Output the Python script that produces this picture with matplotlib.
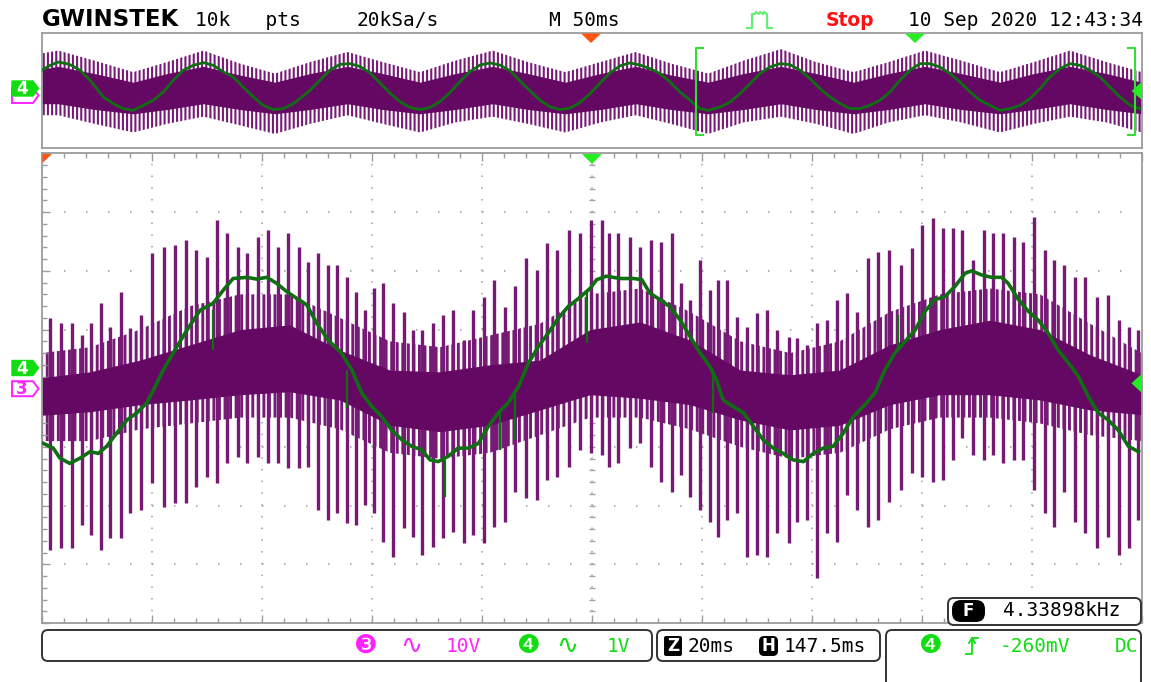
import matplotlib
matplotlib.use("Agg")
import matplotlib.pyplot as plt
from matplotlib.patches import FancyBboxPatch, Polygon
from matplotlib.ticker import MultipleLocator

plt.rcParams["lines.scale_dashes"] = False

# ---------------- main window (20 ms/div, CH3 10 V/div, CH4 1 V/div) ----------------
# CH3 switching pulses: time (ms), positive tip (V), negative tip (V)
spk_t = [1.5, 3.5, 5.5, 7.3, 8.9, 10.8, 12.5, 14.4, 16.1, 18.1, 20.1, 22.2, 24.2, 26.2,
         28.1, 30.0, 31.8, 33.6, 35.6, 37.4, 39.4, 41.2, 43.0, 44.8, 46.7, 48.5, 50.3,
         52.0, 53.6, 55.5, 57.1, 58.8, 60.5, 62.1, 63.9, 65.8, 67.6, 69.2, 71.2, 73.0,
         74.8, 76.7, 78.5, 80.5, 82.3, 84.2, 86.1, 88.1, 90.0, 91.8, 93.6, 95.8, 97.9,
         99.9, 101.8, 103.2, 104.8, 107.0, 108.8, 110.7, 112.6, 114.6, 116.2, 117.9,
         119.7, 121.5, 123.0, 124.6, 126.4, 128.2, 130.0, 131.8, 133.6, 135.8, 137.3,
         139.1, 140.9, 142.7, 144.6, 146.4, 148.2, 150.3, 152.1, 154.1, 156.2, 158.2,
         160.1, 162.1, 163.9, 165.6, 167.4, 169.4, 171.4, 173.0, 174.8, 176.7, 178.5,
         180.5, 182.4, 184.1, 185.9, 187.9, 189.7, 191.8, 193.8, 195.8, 197.6, 199.4]
spk_hi = [12.0, 11.1, 11.1, 9.1, 11.1, 14.5, 10.4, 16.4, 10.3, 12.5, 23.1, 24.1, 24.4, 25.3,
          23.6, 22.4, 28.7, 26.5, 24.1, 23.1, 25.8, 27.0, 24.1, 26.5, 24.1, 21.5, 23.1,
          21.0, 21.0, 19.0, 16.4, 13.3, 17.1, 17.9, 14.5, 13.0, 9.9, 9.9, 11.1, 12.5,
          13.3, 8.2, 13.3, 15.6, 18.5, 13.9, 17.4, 22.2, 20.2, 24.8, 23.6, 27.0, 26.5,
          28.7, 28.7, 26.5, 26.5, 25.8, 24.1, 25.3, 24.9, 26.5, 17.9, 15.0,
          21.9, 16.8, 18.5, 18.5, 12.2, 10.4, 12.8, 13.3, 9.9, 8.7, 8.6,
          7.4, 11.1, 11.6, 15.0, 16.2, 13.0, 22.2, 23.2, 23.6, 21.0, 23.9,
          27.8, 29.0, 27.3, 27.3, 27.0, 21.9, 27.0, 26.5, 26.5, 25.8, 24.9,
          29.2, 23.6, 21.9, 21.0, 19.0, 19.0, 15.6, 15.9, 11.6, 10.4, 9.9]
spk_lo = [-27.6, -27.2, -27.2, -23.3, -25.0, -27.6, -25.5, -25.5, -21.2, -20.7, -16.1, -20.2,
          -19.5, -19.5, -16.8, -15.1, -16.1, -12.7, -11.7, -12.7, -11.7, -12.7, -12.7,
          -13.6, -13.6, -13.4, -20.7, -22.4, -21.2, -23.0, -23.3, -19.9, -21.2, -26.2,
          -28.7, -23.8, -25.3, -28.4, -27.0, -25.5, -24.5, -26.4, -25.0, -26.4, -23.6,
          -22.8, -17.7, -18.7, -19.0, -15.6, -15.1, -13.4, -10.5, -11.0, -11.4, -13.4,
          -12.7, -10.2, -9.3, -13.4, -16.0, -17.7, -14.8, -18.5, -20.7, -22.8, -25.3,
          -22.4, -21.2, -28.7, -28.4, -28.7, -24.7, -26.4, -22.8, -22.4, -32.3, -24.7,
          -26.2, -18.2, -20.7, -23.6, -22.4, -19.4, -17.3, -14.4, -15.1, -16.0, -15.6,
          -12.2, -8.5, -11.4, -12.2, -11.4, -12.7, -12.2, -12.2, -17.3, -21.2, -23.6,
          -17.7, -22.8, -24.7, -27.2, -25.3, -28.4, -27.2, -22.4]

# CH3 solid core and the crowded zone of shorter pulses around it: time (ms), volts
band_t = [0, 8.8, 17.9, 27.0, 36.1, 45.1, 54.2, 63.3, 72.4, 81.5, 90.6, 99.7, 108.8,
          117.9, 127.0, 136.1, 145.1, 154.2, 163.3, 172.4, 181.5, 190.6, 200]
band_hi = [1.8, 2.8, 4.8, 7.4, 10.0, 10.8, 6.5, 3.1, 2.8, 4.0, 4.8, 10.0, 11.3,
           8.2, 3.1, 2.3, 3.1, 7.4, 10.0, 11.6, 10.0, 5.7, 2.3]
band_lo = [-4.6, -4.0, -2.8, -2.0, -1.1, -0.6, -2.0, -6.3, -7.4, -6.3, -3.7, -1.1, -1.7,
           -2.8, -5.4, -7.1, -6.3, -2.8, -1.1, -1.1, -2.0, -3.7, -4.5]
crowd_hi = [6.0, 7.0, 10.0, 14.0, 16.0, 16.0, 12.0, 8.0, 7.0, 9.0, 11.0, 16.0, 17.0,
            13.0, 8.0, 6.0, 8.0, 13.0, 16.0, 17.0, 16.0, 11.0, 6.0]
crowd_lo = [-9.0, -9.0, -7.0, -6.0, -5.0, -5.0, -7.0, -11.0, -12.0, -11.0, -8.0, -5.0,
            -5.0, -7.0, -10.0, -12.0, -11.0, -7.0, -5.0, -5.0, -6.0, -8.0, -9.0]

# CH4 trace: time (ms), volts
ch4_t = [0.3, 2.1, 3.3, 5.1, 7.0, 8.8, 10.3, 11.8, 13.6, 15.5, 17.3, 19.1, 20.3, 22.1,
         23.9, 26.4, 28.8, 31.2, 33.0, 34.8, 37.3, 39.1, 40.9, 42.7, 44.5, 46.4, 48.2,
         50.0, 52.1, 54.5, 56.4, 58.2, 60.0, 61.8, 63.6, 65.5, 67.3, 69.1, 70.6, 72.1,
         73.9, 75.7, 77.6, 79.4, 81.2, 83.0, 84.8, 86.7, 88.5, 90.3, 92.1, 93.9, 95.7,
         97.6, 99.7, 100.9, 102.7, 105.1, 107.6, 109.1, 110.6, 112.4, 114.2, 116.1,
         117.9, 119.7, 121.5, 122.7, 123.9, 125.7, 127.6, 129.4, 131.2, 133.0, 134.8,
         136.6, 138.5, 140.3, 142.1, 143.9, 145.7, 147.6, 149.7, 151.5, 153.3, 155.1,
         156.9, 158.8, 160.6, 162.4, 164.2, 166.0, 167.9, 169.1, 170.9, 172.7, 174.5,
         175.7, 177.6, 179.4, 181.2, 183.0, 184.8, 186.7, 188.5, 190.3, 192.1, 193.9,
         195.7, 197.6, 199.4]
ch4_v = [-1.28, -1.36, -1.53, -1.62, -1.53, -1.42, -1.45, -1.33, -1.11, -0.88, -0.76, -0.59,
         -0.37, -0.03, 0.26, 0.65, 0.99, 1.11, 1.33, 1.53, 1.55, 1.52, 1.55, 1.45, 1.31,
         1.19, 1.08, 0.77, 0.48, 0.26, -0.03, -0.42, -0.65, -0.82, -1.05, -1.22, -1.33,
         -1.39, -1.56, -1.59, -1.50, -1.36, -1.36, -1.28, -0.99, -0.76, -0.59, -0.31, 0.09,
         0.37, 0.60, 0.85, 1.05, 1.19, 1.36, 1.51, 1.57, 1.53, 1.53, 1.51, 1.28, 1.17, 1.05,
         0.82, 0.54, 0.26, 0.03, -0.20, -0.54, -0.65, -0.76, -0.99, -1.22, -1.36, -1.45,
         -1.56, -1.59, -1.45, -1.36, -1.33, -1.11, -0.82, -0.62, -0.42, -0.03, 0.26, 0.45,
         0.65, 0.97, 1.17, 1.22, 1.39, 1.62, 1.66, 1.59, 1.55, 1.55, 1.45, 1.17, 0.97,
         0.82, 0.60, 0.31, 0.09, -0.14, -0.48, -0.76, -0.88, -1.05, -1.33, -1.42]

# CH4 short glitches: time (ms), start / end (V)
glitch_t = [31.2, 55.5, 73.3, 83.4, 86.1, 99.1, 122.1, 155.7]
glitch_a = [1.00, -0.03, -1.56, -0.72, -0.45, 1.33, -0.03, 0.31]
glitch_b = [0.31, -0.67, -2.19, -1.39, -1.22, 0.43, -0.76, 0.91]

# ---------------- overview window (50 ms/div, whole record) ----------------
ov4_t = [0, 3.8, 7.5, 11.4, 13.6, 17.4, 22.0, 25.0, 28.0, 32.5, 37.1, 41.6, 46.2, 50.7,
         55.3, 59.8, 64.4, 68.9, 73.5, 78.0, 82.6, 87.1, 91.6, 96.2, 100.7, 105.3, 109.8,
         114.4, 117.4, 122.0, 126.5, 131.0, 135.6, 140.1, 144.7, 149.2, 153.8, 158.3,
         162.9, 167.4, 172.0, 176.5, 181.0, 185.6, 190.1, 194.7, 199.2, 203.8, 208.3,
         212.9, 217.4, 222.0, 226.5, 231.0, 235.6, 240.1, 244.7, 249.2, 253.8, 258.3,
         262.9, 267.4, 272.0, 276.5, 281.0, 285.6, 290.1, 294.7, 299.2, 303.0, 308.3,
         312.9, 317.4, 322.0, 326.5, 331.0, 335.6, 340.1, 344.7, 349.2, 353.8, 358.3,
         362.9, 367.4, 372.0, 376.5, 381.0, 385.6, 390.1, 394.7, 399.2, 403.8, 408.3,
         412.9, 417.4, 422.0, 426.5, 431.0, 435.6, 440.1, 444.7, 449.2, 453.8, 458.3,
         462.9, 467.4, 472.0, 476.5, 481.0, 485.6, 490.1, 494.7, 499.2]
ov4_v = [1.09, 1.43, 1.66, 1.55, 1.43, 1.09, 0.39, -0.19, -0.77, -1.23, -1.58, -1.70, -1.35,
         -1.00, -0.42, 0.39, 1.09, 1.43, 1.62, 1.43, 0.97, 0.62, -0.08, -0.77, -1.35, -1.65,
         -1.58, -1.23, -0.88, -0.30, 0.40, 1.10, 1.50, 1.55, 1.35, 0.90, 0.20, -0.50, -1.10,
         -1.50, -1.65, -1.50, -1.10, -0.45, 0.30, 1.00, 1.45, 1.60, 1.45, 1.05, 0.35, -0.35,
         -1.00, -1.45, -1.65, -1.55, -1.15, -0.55, 0.20, 0.90, 1.40, 1.60, 1.45, 1.20, 0.86,
         0.27, -0.42, -1.00, -1.58, -1.70, -1.47, -1.12, -0.54, 0.16, 0.86, 1.31, 1.55,
         1.48, 1.09, 0.51, -0.19, -0.77, -1.23, -1.58, -1.58, -1.35, -1.00, -0.42, 0.39,
         1.09, 1.55, 1.55, 1.31, 0.86, 0.27, -0.42, -1.00, -1.35, -1.70, -1.58, -1.35,
         -0.88, -0.19, 0.62, 1.20, 1.55, 1.43, 1.09, 0.62, -0.08, -0.77, -1.35, -1.58]

ov3_t = [0, 7.5, 24, 41.6, 57, 73.5, 90, 106, 122, 139, 155, 172, 188, 205, 221, 238,
         254, 270, 286, 303, 319, 336, 352, 369, 385, 401.5, 418, 435.6, 451, 467.4, 484, 500]
ov3_tip_hi = [26, 28, 21, 13, 20, 28, 19, 12, 20, 27, 20, 13, 21, 28, 20, 13,
              20, 27, 19, 12, 21, 29, 20, 13, 20, 28, 21, 13, 20, 28, 20, 13]
ov3_tip_lo = [-17, -17, -23, -29, -23, -18, -24, -30, -23, -17, -23, -29, -22, -18, -23, -29,
              -22, -17, -23, -30, -22, -18, -23, -30, -22, -17, -22, -29, -23, -18, -22, -29]
ov3_core_hi = [15, 17, 12, 6, 12, 17, 11, 6, 12, 17, 12, 6, 12, 17, 12, 6,
               12, 17, 11, 6, 12, 17, 12, 6, 12, 17, 12, 6, 12, 17, 12, 6]
ov3_core_lo = [-9, -9, -13, -16, -13, -9, -13, -16, -13, -9, -13, -16, -13, -9, -13, -16,
               -13, -9, -13, -16, -13, -9, -13, -16, -13, -9, -13, -16, -13, -9, -13, -16]

CH4_OFFSET_DIV = 0.34
PURPLE = "#640864"
PURPLE_SPIKE = "#761a76"
GREEN = "#0f6e12"
GRID = "#a6a6a6"
FRAME = "#9c9c9c"

W, H = 1151, 682
fig = plt.figure(figsize=(W / 100, H / 100), dpi=100)
fig.patch.set_facecolor("white")


def axes_px(x0, y0, x1, y1):
    return fig.add_axes([x0 / W, (H - y1) / H, (x1 - x0) / W, (y1 - y0) / H])


# ---------------- main graticule ----------------
gx0, gx1, gy0, gy1 = 41.7, 1141.7, 153.5, 623.0
main = axes_px(gx0, gy0, gx1, gy1)
main.set_xlim(0, 200)
main.set_ylim(-40, 40)
main.xaxis.set_major_locator(MultipleLocator(20))
main.xaxis.set_minor_locator(MultipleLocator(4))
main.yaxis.set_major_locator(MultipleLocator(10))
main.yaxis.set_minor_locator(MultipleLocator(2))
main.tick_params(which="both", direction="in", top=True, right=True,
                 labelbottom=False, labelleft=False, color=FRAME, width=1.0)
main.tick_params(which="major", length=6)
main.tick_params(which="minor", length=3.5)
for s in main.spines.values():
    s.set_color(FRAME)
    s.set_linewidth(1.3)

for v in range(-30, 31, 10):
    main.axhline(v, color=GRID, lw=1.2, ls=(0, (1.1, 14.74)), zorder=0.5)
for t in range(20, 200, 20):
    main.axvline(t, color=GRID, lw=1.2, ls=(0, (1.1, 7.35)), zorder=0.5)
# centre-line sub-division ticks
main.plot([100] * 41, list(range(-40, 41, 2)), ls="none", marker="_", ms=5,
          mew=1.0, color=GRID, zorder=0.6)
main.plot(list(range(0, 201, 4)), [0] * 51, ls="none", marker="|", ms=5,
          mew=1.0, color=GRID, zorder=0.6)

with plt.rc_context({"hatch.linewidth": 2.1}):
    main.fill_between(band_t, crowd_lo, crowd_hi, facecolor="white", edgecolor=PURPLE_SPIKE,
                      hatch="|||", lw=0, zorder=1.5)
main.vlines(spk_t, spk_lo, spk_hi, color=PURPLE_SPIKE, lw=2.4, zorder=2)
main.fill_between(band_t, band_lo, band_hi, color=PURPLE, lw=0, zorder=2.5)

main4 = main.twinx()
main4.set_ylim(-4 - CH4_OFFSET_DIV, 4 - CH4_OFFSET_DIV)
main4.axis("off")
main4.plot(ch4_t, ch4_v, color=GREEN, lw=2.6, solid_joinstyle="round")
main4.vlines(glitch_t, glitch_a, glitch_b, color=GREEN, lw=1.6)

# ---------------- overview window ----------------
ov = axes_px(gx0, 33.3, gx1, 148.3)
ov.set_xlim(0, 500)
ov.set_ylim(-40, 40)
ov.set_xticks([])
ov.set_yticks([])
for s in ov.spines.values():
    s.set_color(FRAME)
    s.set_linewidth(1.3)
with plt.rc_context({"hatch.linewidth": 1.5}):
    ov.fill_between(ov3_t, ov3_tip_lo, ov3_tip_hi, facecolor="white", edgecolor=PURPLE_SPIKE,
                    hatch="||||", lw=0, zorder=1)
ov.fill_between(ov3_t, ov3_core_lo, ov3_core_hi, color=PURPLE, lw=0, zorder=2)
ov4 = ov.twinx()
ov4.set_ylim(-4 - CH4_OFFSET_DIV, 4 - CH4_OFFSET_DIV)
ov4.axis("off")
ov4.plot(ov4_t, ov4_v, color=GREEN, lw=2.0)

# ---------------- screen furniture (pixel coordinates) ----------------
scr = fig.add_axes([0, 0, 1, 1])
scr.set_xlim(0, W)
scr.set_ylim(H, 0)
scr.axis("off")
scr.set_zorder(10)

MONO = "DejaVu Sans Mono"
LGREEN = "#11dd11"
MAGENTA = "#ff22ff"

# header
scr.text(42, 19.5, "GWINSTEK", fontsize=16.5, fontweight="bold", family="DejaVu Sans",
         va="center", ha="left", color="black")
scr.text(195, 21, "10k   pts", fontsize=14, family=MONO, va="center", ha="left")
scr.text(357, 21, "20kSa/s", fontsize=14, family=MONO, va="center", ha="left")
scr.text(549, 21, "M 50ms", fontsize=14, family=MONO, va="center", ha="left")
scr.plot([747, 752, 752, 755, 756, 759, 760, 763, 764, 767, 767, 772],
         [28, 28, 14, 14, 12, 14, 12, 14, 12, 14, 28, 28], color="#66ee77", lw=1.6)
scr.text(826, 20, "Stop", fontsize=13.5, fontweight="bold", family="DejaVu Sans",
         va="center", ha="left", color="#ff1111")
scr.text(908, 21, "10 Sep 2020 12:43:34", fontsize=14, family=MONO, va="center", ha="left")

# top markers
scr.add_patch(Polygon([(581, 33.5), (601, 33.5), (591, 43)], closed=True, color="#ff5511", lw=0))
scr.add_patch(Polygon([(905, 33.5), (925, 33.5), (915, 43)], closed=True, color="#22ee22", lw=0))
scr.add_patch(Polygon([(582, 154), (602, 154), (592, 164)], closed=True, color="#22ee22", lw=0))
scr.add_patch(Polygon([(42.5, 154), (52, 154), (42.5, 163)], closed=True, color="#ff5511", lw=0))

# zoom window brackets on the overview
for xb, d in ((696, 1), (1135, -1)):
    scr.plot([xb + 7 * d, xb, xb, xb + 7 * d], [48, 48, 135, 135], color="#33dd33", lw=1.5)

# right-hand trigger level markers
scr.add_patch(Polygon([(1142, 81.5), (1142, 100), (1131.5, 91)], closed=True, color="#22ee22", lw=0))
scr.add_patch(Polygon([(1142, 373.5), (1142, 393), (1131.5, 383.3)], closed=True, color="#22ee22", lw=0))


def tag_shape(y, face, edge, lw):
    pts = [(12, y - 7.5), (33, y - 7.5), (38.5, y), (33, y + 7.5), (12, y + 7.5)]
    scr.add_patch(Polygon(pts, closed=True, facecolor=face, edgecolor=edge, lw=lw))


# overview channel tags (CH3 tag sits underneath the CH4 tag)
tag_shape(95.5, "white", MAGENTA, 1.4)
tag_shape(88.5, LGREEN, LGREEN, 1.0)
scr.text(22, 89, "4", fontsize=12, fontweight="bold", family="DejaVu Sans",
         color="white", ha="center", va="center")
# main window channel tags
tag_shape(368, LGREEN, LGREEN, 1.0)
scr.text(22, 368.5, "4", fontsize=12, fontweight="bold", family="DejaVu Sans",
         color="white", ha="center", va="center")
tag_shape(388.7, "white", MAGENTA, 1.4)
scr.text(22, 389.2, "3", fontsize=12, fontweight="bold", family="DejaVu Sans",
         color=MAGENTA, ha="center", va="center")


def rbox(x0, y0, x1, y1, r=6, face="white", edge="#333333"):
    scr.add_patch(FancyBboxPatch((x0, y0), x1 - x0, y1 - y0,
                                 boxstyle=f"round,pad=0,rounding_size={r}",
                                 facecolor=face, edgecolor=edge, lw=1.4))


# bottom status boxes
rbox(42, 630, 652, 661)
rbox(657, 630, 880, 661)
rbox(886, 630, 1141, 692)
rbox(948, 598, 1141, 625)

yb = 646
scr.text(365, yb, "\u2778", fontsize=19, family="DejaVu Sans", color=MAGENTA, ha="center", va="center")
scr.text(411, yb, "\u223f", fontsize=19, family="DejaVu Sans", color=MAGENTA, ha="center", va="center")
scr.text(446, yb, "10V", fontsize=14, family=MONO, color=MAGENTA, ha="left", va="center")
scr.text(528, yb, "\u2779", fontsize=19, family="DejaVu Sans", color=LGREEN, ha="center", va="center")
scr.text(567, yb, "\u223f", fontsize=19, family="DejaVu Sans", color=LGREEN, ha="center", va="center")
scr.text(607, yb, "1V", fontsize=14, family=MONO, color=LGREEN, ha="left", va="center")

rbox(665, 637, 681, 655, r=1, face="black", edge="black")
scr.text(673, yb, "Z", fontsize=12, fontweight="bold", family="DejaVu Sans", color="white",
         ha="center", va="center")
scr.text(688, yb, "20ms", fontsize=14, family=MONO, color="black", ha="left", va="center")
rbox(760, 637, 777, 655, r=4, face="black", edge="black")
scr.text(768.5, yb, "H", fontsize=12, fontweight="bold", family="DejaVu Sans", color="white",
         ha="center", va="center")
scr.text(784, yb, "147.5ms", fontsize=14, family=MONO, color="black", ha="left", va="center")

scr.text(930, yb, "\u2779", fontsize=19, family="DejaVu Sans", color=LGREEN, ha="center", va="center")
scr.plot([966, 972, 972, 978], [654, 654, 638, 638], color=LGREEN, lw=1.3)
scr.plot([969, 972, 975], [643, 638, 643], color=LGREEN, lw=1.3)
scr.text(1000, yb, "-260mV", fontsize=14, family=MONO, color=LGREEN, ha="left", va="center")
scr.text(1138, yb, "DC", fontsize=14, family=MONO, color=LGREEN, ha="right", va="center")

rbox(953, 601, 984, 621, r=8, face="black", edge="black")
scr.text(968.5, 611, "F", fontsize=12, fontweight="bold", family="DejaVu Sans", color="white",
         ha="center", va="center")
scr.text(1003, 611, "4.33898kHz", fontsize=14, family=MONO, color="black", ha="left", va="center")

fig.savefig("out.png", dpi=100)
